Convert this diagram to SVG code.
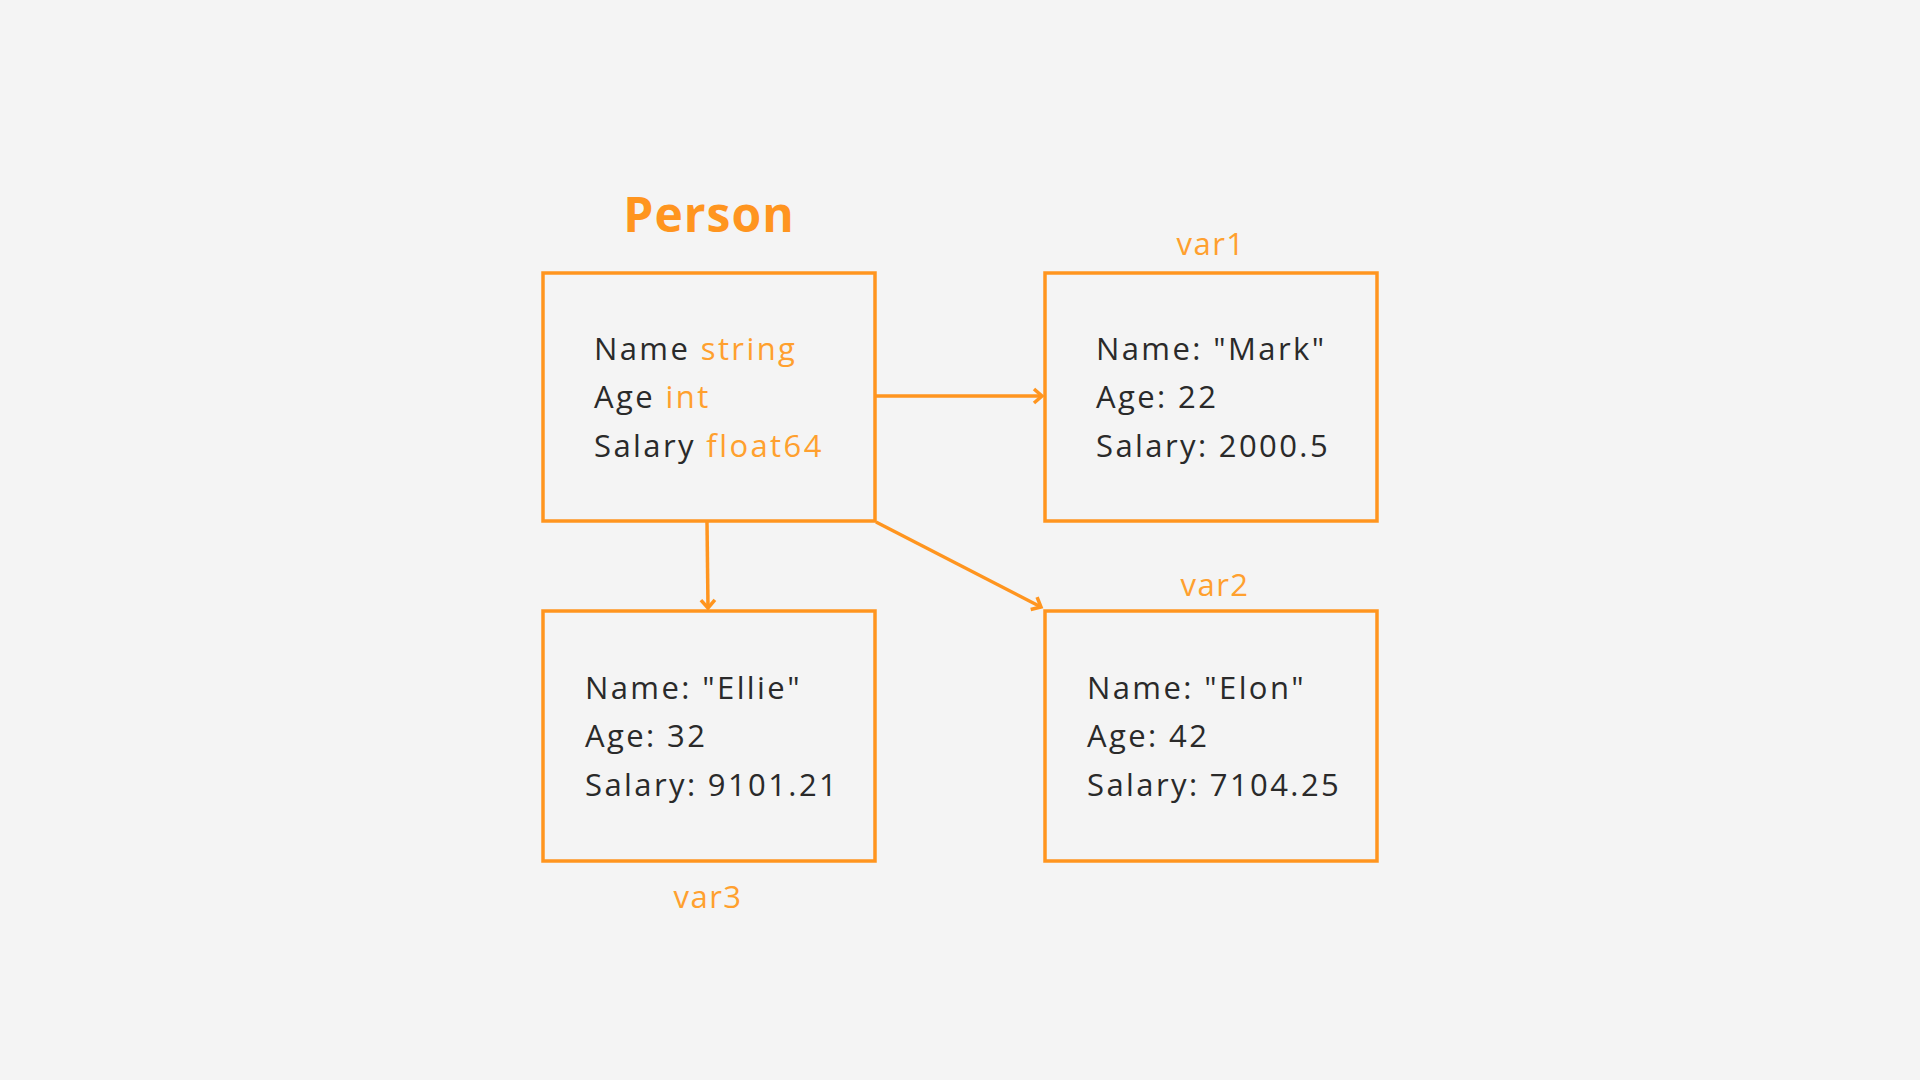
<svg xmlns="http://www.w3.org/2000/svg" width="1920" height="1080" viewBox="0 0 1920 1080">
<defs>
<style>
.box{fill:none;stroke:#ff951f;stroke-width:3.5}
.t{font-family:"Open Sans","Noto Sans",sans-serif;font-size:31px;fill:#2a2a2a;letter-spacing:2.4px}
.o{fill:#ffa02e}
.lbl{font-family:"Open Sans","Noto Sans",sans-serif;font-size:31px;fill:#ffa02e;text-anchor:middle;letter-spacing:1.5px}
.title{font-family:"Open Sans","Noto Sans",sans-serif;font-size:48px;font-weight:bold;fill:#ff951f;text-anchor:middle;letter-spacing:1px}
.c{fill:none;stroke:#ff951f;stroke-width:3.5}
</style>
<marker id="ah" markerWidth="16" markerHeight="18" refX="12" refY="9" orient="auto" markerUnits="userSpaceOnUse">
<path d="M4,2 L12,9 L4,16" fill="none" stroke="#ff951f" stroke-width="3.5"/>
</marker>
</defs>
<rect width="1920" height="1080" fill="#f4f4f4"/>
<g id="person">
<text class="title" x="709" y="232">Person</text>
<rect class="box" x="543" y="273" width="332" height="248"/>
<text class="t" x="594" y="360">Name <tspan class="o">string</tspan></text>
<text class="t" x="594" y="408">Age <tspan class="o">int</tspan></text>
<text class="t" x="594" y="457">Salary <tspan class="o">float64</tspan></text>
</g>
<g id="var1">
<text class="lbl" x="1211" y="255">var1</text>
<rect class="box" x="1045" y="273" width="332" height="248"/>
<text class="t" x="1096" y="360">Name: "Mark"</text>
<text class="t" x="1096" y="408">Age: 22</text>
<text class="t" x="1096" y="457">Salary: 2000.5</text>
</g>
<g id="var3">
<rect class="box" x="543" y="611" width="332" height="250"/>
<text class="t" x="585" y="699">Name: "Ellie"</text>
<text class="t" x="585" y="747">Age: 32</text>
<text class="t" x="585" y="796">Salary: 9101.21</text>
<text class="lbl" x="708" y="908">var3</text>
</g>
<g id="var2">
<text class="lbl" x="1215" y="596">var2</text>
<rect class="box" x="1045" y="611" width="332" height="250"/>
<text class="t" x="1087" y="699">Name: "Elon"</text>
<text class="t" x="1087" y="747">Age: 42</text>
<text class="t" x="1087" y="796">Salary: 7104.25</text>
</g>
<g id="connectors">
<line class="c" x1="875" y1="396" x2="1042" y2="396" marker-end="url(#ah)"/>
<line class="c" x1="707" y1="522" x2="708" y2="608" marker-end="url(#ah)"/>
<line class="c" x1="876" y1="522" x2="1041" y2="607" marker-end="url(#ah)"/>
</g>
</svg>
